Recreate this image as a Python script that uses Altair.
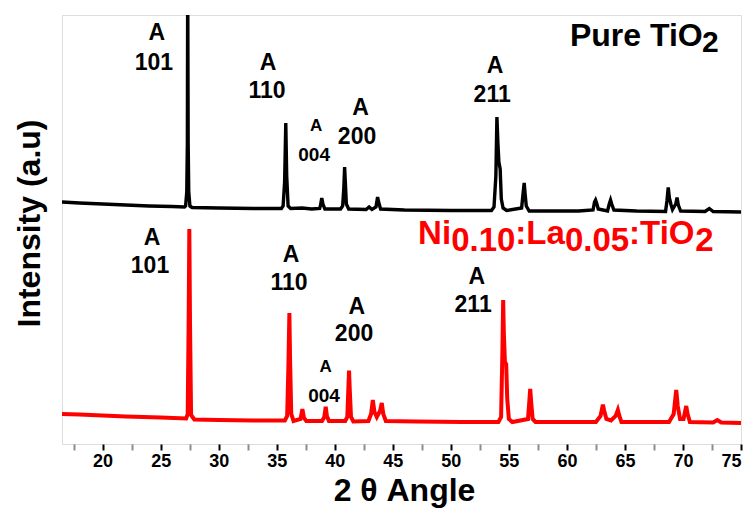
import altair as alt
import pandas as pd

# ---------------- data ----------------
# Pure TiO2 pattern (2θ in degrees, intensity in arbitrary units, offset trace)
pure_two_theta = [16.5, 18, 20, 22, 24, 26, 27.05,
                  27.15, 27.25, 27.3, 27.33, 27.37, 27.42, 27.52,
                  27.7, 30, 33, 35.4,
                  35.55, 35.68, 35.78, 35.86, 35.98, 36.2,
                  37.2, 38.0, 38.7,
                  38.78, 38.88, 38.98, 39.15,
                  40.5, 40.68, 40.78, 40.85, 40.91, 41.0, 41.2,
                  42.7, 42.96, 43.2, 43.55, 43.69, 43.8, 43.95,
                  46, 50, 53.5,
                  53.72, 53.88, 53.97, 54.06, 54.14, 54.25, 54.35, 54.5, 54.8,
                  56.1, 56.22, 56.32, 56.4, 56.5, 56.75,
                  61, 62.25, 62.38, 62.47, 62.56, 62.7,
                  63.5, 63.65, 63.76, 63.86, 64.05,
                  66, 68.5, 68.62, 68.73, 68.83, 68.98, 69.1,
                  69.38, 69.49, 69.6, 69.8,
                  71.9, 72.27, 72.6, 75]
pure_intensity = [242, 241, 240, 239, 238, 237.5, 237,
                  238, 252, 300, 470, 300, 252, 238,
                  236.5, 236, 235.5, 235.5,
                  238, 262, 321, 268, 238, 235.5,
                  236, 235, 235.5,
                  239, 246, 240, 235,
                  235, 238, 256, 277, 262, 240, 235,
                  234.5, 237, 234.5, 237, 247, 241, 235,
                  234, 233.5, 233.5,
                  237, 268, 327, 300, 282, 275, 245, 236, 233.5,
                  236, 250, 261, 250, 238, 233,
                  233, 234, 242, 244, 241, 235,
                  233, 240, 244, 240, 234,
                  233, 232.5, 243, 256.5, 246, 239, 234.5,
                  240, 246.4, 239, 233,
                  232.5, 235.5, 232.5, 232]

# Ni0.10:La0.05:TiO2 pattern
doped_two_theta = [16.5, 18, 20, 22, 25, 27.2,
                   27.33, 27.41, 27.47, 27.53, 27.62, 27.9,
                   30, 33, 35.7,
                   35.9, 36.01, 36.09, 36.15, 36.25, 36.45,
                   37.05, 37.21, 37.35, 37.55,
                   38.9, 39.1, 39.22, 39.32, 39.5,
                   40.9, 41.08, 41.17, 41.23, 41.29, 41.4, 41.6,
                   42.9, 43.13, 43.28, 43.42, 43.62, 43.9, 44.05, 44.18, 44.4,
                   47, 51, 54.1,
                   54.33, 54.44, 54.51, 54.57, 54.66, 54.77, 54.86, 55.0, 55.3,
                   56.65, 56.76, 56.84, 56.92, 57.05, 57.3,
                   62.5, 62.9, 63.1, 63.22, 63.4, 63.8,
                   64.2, 64.39, 64.52, 64.7,
                   68.8, 69.2, 69.42, 69.55, 69.75, 70.05, 70.28, 70.4, 70.6,
                   72.6, 72.96, 73.3, 75]
doped_intensity = [30, 29.5, 28.5, 27.5, 26.5, 25.5,
                   30, 120, 215, 120, 29, 24.5,
                   24, 23.5, 23.5,
                   28, 80, 131, 85, 30, 23,
                   25, 35, 26, 23,
                   23, 27, 37.3, 28, 23,
                   23, 27, 55, 73.3, 55, 27, 22.5,
                   23, 30, 44, 32, 27, 33, 41, 30, 23,
                   22.5, 22, 22,
                   27, 90, 144, 110, 82, 80, 45, 25, 22,
                   25, 42, 55, 42, 25, 22,
                   22, 28, 39.3, 33, 25, 23.5,
                   28, 34, 28, 22,
                   22, 30, 54, 38, 25, 25, 38, 30, 22,
                   21.5, 24, 21.5, 21]

# Peak annotations ("A" = anatase, Miller indices)
label_text = ["A", "101", "A", "110", "A", "004", "A", "200", "A", "211"]
label_size = [23, 23, 23, 23, 17, 19, 23, 23, 23, 23]
pure_label_x = [24.66, 24.42, 34.25, 34.16, 38.39, 38.22, 42.22, 41.92, 53.82, 53.56]
pure_label_y = [411, 381.3, 381.3, 353, 318, 289, 336, 307.4, 378, 349]
doped_label_x = [24.25, 24.08, 36.23, 36.06, 39.22, 39.08, 41.90, 41.66, 52.23, 51.92]
doped_label_y = [206, 178, 189, 161, 77.3, 48, 137.3, 110, 167, 139.3]

# Sample names (pieces so that the indices sit lower, as in the figure)
pure_name = ["Pure TiO", "2"]
pure_name_x = [71.7, 71.64]
pure_name_y = [398.3, 392.3]
doped_name = ["Ni", "0.10", ":La", "0.05", ":TiO", "2"]
doped_name_x = [47.18, 50.03, 55.56, 59.83, 65.36, 71.05]
doped_name_y = [199.7, 193, 199.7, 193, 199.7, 193]

tick_values = [17.5, 20, 22.5, 25, 27.5, 30, 32.5, 35, 37.5, 40, 42.5, 45, 47.5,
               50, 52.5, 55, 57.5, 60, 62.5, 65, 67.5, 70, 72.5, 75]

# ---------------- tables ----------------
pure_df = pd.DataFrame({"two_theta": pure_two_theta, "intensity": pure_intensity})
doped_df = pd.DataFrame({"two_theta": doped_two_theta, "intensity": doped_intensity})
labels_df = pd.DataFrame({
    "two_theta": pure_label_x + doped_label_x,
    "intensity": pure_label_y + doped_label_y,
    "text": label_text + label_text,
    "size": label_size + label_size,
})
pure_name_df = pd.DataFrame({"two_theta": pure_name_x, "intensity": pure_name_y,
                             "text": pure_name, "part": ["main", "sub"]})
doped_name_df = pd.DataFrame({"two_theta": doped_name_x, "intensity": doped_name_y,
                              "text": doped_name})

FONT = "Liberation Sans"

x_enc = alt.X(
    "two_theta:Q",
    scale=alt.Scale(domain=[16.5, 75], nice=False, zero=False),
    axis=alt.Axis(
        title="2 θ Angle",
        values=tick_values,
        labelExpr="datum.value % 5 === 0 ? datum.label : ''",
        tickSize=6,
        tickWidth=2,
        tickOpacity={"condition": {"test": "datum.value % 5 === 0", "value": 1}, "value": 0.45},
        tickColor="black",
        domain=False,
        grid=False,
        labelFont=FONT,
        labelFontWeight="bold",
        labelFontSize=18,
        labelColor="black",
        labelPadding=2,
        titleFont=FONT,
        titleFontWeight="bold",
        titleFontSize=32,
        titleColor="black",
        titlePadding=5,
        titleX=342,
    ),
)
y_enc = alt.Y(
    "intensity:Q",
    scale=alt.Scale(domain=[0, 429], nice=False, zero=False),
    axis=alt.Axis(
        title="Intensity (a.u)",
        labels=False,
        ticks=False,
        domain=False,
        grid=False,
        titleFont=FONT,
        titleFontWeight="bold",
        titleFontSize=32,
        titleColor="black",
        titlePadding=16,
        titleY=208,
    ),
)

doped_line = alt.Chart(doped_df).mark_line(color="#ff0000", strokeWidth=4, clip=True).encode(
    x=x_enc, y=y_enc)
pure_line = alt.Chart(pure_df).mark_line(color="black", strokeWidth=3.4, clip=True).encode(
    x=x_enc, y=y_enc)

peak_labels = alt.Chart(labels_df).mark_text(
    font=FONT, fontWeight="bold", color="black", align="center", baseline="middle"
).encode(x=x_enc, y=y_enc, text="text:N", size=alt.Size("size:Q", scale=None))

pure_main = alt.Chart(pure_name_df).transform_filter("datum.part === 'main'").mark_text(
    font=FONT, fontWeight="bold", color="black", fontSize=32, align="right",
    baseline="alphabetic").encode(x=x_enc, y=y_enc, text="text:N")
pure_sub = alt.Chart(pure_name_df).transform_filter("datum.part === 'sub'").mark_text(
    font=FONT, fontWeight="bold", color="black", fontSize=30, align="left",
    baseline="alphabetic").encode(x=x_enc, y=y_enc, text="text:N")
doped_name_layer = alt.Chart(doped_name_df).mark_text(
    font=FONT, fontWeight="bold", color="#ff0000", fontSize=33, align="left",
    baseline="alphabetic").encode(x=x_enc, y=y_enc, text="text:N")

chart = alt.layer(
    doped_line, pure_line, peak_labels, pure_main, pure_sub, doped_name_layer
).properties(
    width=679,
    height=429,
    padding={"left": 54, "top": 7, "right": 4, "bottom": 66},
    autosize=alt.AutoSizeParams(type="none"),
).configure_view(
    stroke="black", strokeWidth=3
).configure(background="white")

chart.save("out.html", embed_options={"renderer": "svg", "actions": False})
